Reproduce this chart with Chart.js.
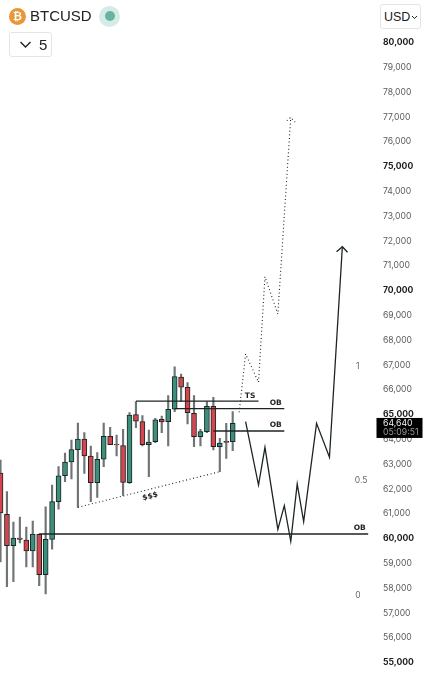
<!DOCTYPE html>
<html>
<head>
<meta charset="utf-8">
<title>BTCUSD</title>
<script src="https://cdn.jsdelivr.net/npm/chart.js@4/dist/chart.umd.min.js"></script>
<style>
    html, body { margin: 0; padding: 0; background: #fff; overflow: hidden; }
    body { width: 426px; height: 679px; position: relative; font-family: "Liberation Sans", sans-serif; color: #222; }
    #chart { position: absolute; left: 0; top: 0; }
    .hd { position: absolute; }
    .coin { left: 9px; top: 7.5px; width: 17px; height: 17px; border-radius: 50%; background: #e8983a; color: #fff; font-size: 11px; font-weight: bold; line-height: 17px; text-align: center; }
    .name { left: 30px; top: 7px; font-size: 15px; line-height: 18px; }
    .halo { left: 99px; top: 5.5px; width: 21px; height: 21px; border-radius: 50%; background: #d5ebe6; }
    .dot { left: 104.5px; top: 11px; width: 10px; height: 10px; border-radius: 50%; background: #69b3a2; }
    .box { border: 1px solid #e4e4e4; border-radius: 3px; background: #fff; box-sizing: border-box; }
    .interval { left: 9px; top: 32px; width: 43px; height: 25px; }
    .interval span { position: absolute; left: 29px; top: 3px; font-size: 15px; line-height: 18px; }
    .currency { left: 380px; top: 4px; width: 41px; height: 25px; }
    .currency span { position: absolute; left: 3px; top: 4px; font-size: 12.5px; line-height: 16px; }
    svg { position: absolute; }
</style>
</head>
<body>
<canvas id="chart" width="426" height="679"></canvas>
<div class="hd coin">₿</div>
<div class="hd name">BTCUSD</div>
<div class="hd halo"></div>
<div class="hd dot"></div>
<div class="hd box interval">
    <svg style="left:9px;top:8px" width="14" height="8"><path d="M1.5 1 L6.5 6 L11.5 1" fill="none" stroke="#222" stroke-width="1.4"/></svg>
    <span>5</span>
</div>
<div class="hd box currency">
    <span>USD</span>
    <svg style="left:30px;top:10px" width="8" height="5"><path d="M1 1 L3.5 3.5 L6 1" fill="none" stroke="#222" stroke-width="1"/></svg>
</div>
<script>
// candles
const candleOpen = [62642, 60977, 59711, 60021, 59941, 59497, 60170, 58542, 59969, 61485, 62533, 63086, 63582, 64013, 63328, 62251, 63195, 64122, 63800, 63743, 62251, 64993, 64711, 63783, 63904, 64807, 64711, 65211, 66513, 66098, 65049, 64106, 64308, 65332, 63703, 63920, 63904];
const candleHigh = [63166, 61888, 60667, 60868, 60465, 60707, 60183, 61283, 62158, 62896, 63449, 63973, 64658, 64267, 63731, 63461, 64658, 64485, 64174, 64404, 65074, 65517, 64953, 64376, 64848, 64940, 65759, 66928, 66634, 66283, 65759, 64404, 65517, 65694, 64041, 64646, 65114];
const candleLow = [59054, 58058, 58259, 59820, 58852, 58852, 58098, 57764, 59566, 61179, 62291, 62400, 61259, 62630, 61485, 61662, 62896, 63783, 63328, 61743, 62227, 64469, 63731, 62493, 63864, 64267, 63731, 65114, 65517, 64618, 63703, 63731, 64267, 63570, 62695, 63235, 63541];
const candleClose = [61029, 59711, 60021, 59969, 59497, 60183, 58542, 59969, 61485, 62533, 63086, 63582, 64013, 63328, 62251, 63195, 64122, 63783, 63771, 62267, 64981, 64727, 63783, 63892, 64791, 64699, 65211, 66525, 66098, 65074, 64106, 64308, 65332, 63703, 63852, 63880, 64640];

const priceTicks = [55000, 56000, 57000, 58000, 59000, 60000, 61000, 62000, 63000, 64000, 65000, 66000, 67000, 68000, 69000, 70000, 71000, 72000, 73000, 74000, 75000, 76000, 77000, 78000, 79000, 80000];

// drawn paths: bar index and price
const solidBars = [38, 40, 41, 43, 44, 45, 46, 47, 49, 51, 53];
const solidPrices = [64711, 62158, 63678, 60372, 61324, 59888, 62199, 60679, 64646, 63275, 71767];
const solidHeadBars = [52.1, 53, 53.8];
const solidHeadPrices = [71565, 71767, 71541];
const dottedBars = [37, 38, 40, 41, 43, 45];
const dottedPrices = [65090, 67440, 66299, 70557, 69053, 76984];
const dottedHeadBars = [44.4, 45, 45.7];
const dottedHeadPrices = [76847, 76984, 76783];
const sssBars = [12, 34];
const sssPrices = [61259, 62695];
const tsBars = [21, 40];
const tsPrice = 65540;
const upperObBars = [27, 44];
const upperObPrice = 65235;
const lowerObBars = [33, 44];
const lowerObPrice = 64336;
const bottomObBars = [6, 57];
const bottomObPrice = 60183;

// labels on the chart
const noteTexts = ['TS', 'OB', 'OB', 'OB'];
const noteBars = [38.7, 42.67, 42.67, 55.7];
const notePrices = [65759, 65477, 64566, 60413];
const fibTexts = ['1', '0.5', '0'];
const fibBars = [55.4, 55.9, 55.4];
const fibPrices = [66956, 62332, 57711];

const lastPrice = 64640;
const countdown = '05:09:51';

const GREEN = '#3d8f7c';
const RED = '#d2464f';
const INK = '#1c2424';

function toPoints(xs, ys) {
    return xs.map((x, i) => ({ x: x, y: ys[i] }));
}

function pathSet(xs, ys, dash, width) {
    return {
        type: 'line',
        data: toPoints(xs, ys),
        borderColor: INK,
        borderWidth: width || 1.3,
        borderDash: dash || [],
        pointRadius: 0,
        tension: 0,
        order: 1
    };
}

function flat(xs, price) {
    return pathSet(xs, xs.map(() => price));
}

const bars = candleOpen.map((_, i) => i);
const DOTS = [1, 2.6];

// text that sits on the plot and the price tag over the axis
const notesPlugin = {
    id: 'notes',
    afterDraw(chart) {
        const c = chart.ctx;
        const x = chart.scales.x;
        const y = chart.scales.y;
        c.save();
        c.textBaseline = 'middle';
        c.textAlign = 'center';

        c.font = 'bold 7.5px "DejaVu Sans"';
        c.fillStyle = '#222';
        noteTexts.forEach((t, i) => {
            c.fillText(t, x.getPixelForValue(noteBars[i]), y.getPixelForValue(notePrices[i]));
        });

        c.save();
        c.translate(x.getPixelForValue(23.2), y.getPixelForValue(61700));
        c.rotate(-0.26);
        c.fillText('$$$', 0, 0);
        c.restore();

        c.font = '8.5px Inter';
        c.fillStyle = '#666';
        fibTexts.forEach((t, i) => {
            c.fillText(t, x.getPixelForValue(fibBars[i]), y.getPixelForValue(fibPrices[i]));
        });

        // price tag
        const mid = y.getPixelForValue(lastPrice);
        c.fillStyle = '#000';
        c.fillRect(376.5, mid - 5.5, 46, 20);
        c.textAlign = 'left';
        c.font = '8.7px Inter';
        c.fillStyle = '#f2f2f2';
        c.fillText(lastPrice.toLocaleString('en-US'), 383, mid - 0.5);
        c.fillStyle = '#9a9a9a';
        c.fillText(countdown, 383, mid + 9);
        c.restore();
    }
};

new Chart(document.getElementById('chart'), {
    type: 'bar',
    data: {
        datasets: [
            pathSet(solidBars, solidPrices),
            pathSet(solidHeadBars, solidHeadPrices),
            pathSet(dottedBars, dottedPrices, DOTS, 1.1),
            pathSet(dottedHeadBars, dottedHeadPrices, DOTS, 1.1),
            pathSet(sssBars, sssPrices, DOTS, 1.1),
            flat(tsBars, tsPrice),
            flat(upperObBars, upperObPrice),
            flat(lowerObBars, lowerObPrice),
            flat(bottomObBars, bottomObPrice),
            {
                // bodies
                data: bars.map(i => ({ x: i, y: [candleOpen[i], candleClose[i]] })),
                backgroundColor: bars.map(i => candleClose[i] >= candleOpen[i] ? GREEN : RED),
                borderColor: INK,
                borderWidth: 1,
                borderSkipped: false,
                barThickness: 5,
                grouped: false,
                order: 2
            },
            {
                // wicks
                data: bars.map(i => ({ x: i, y: [candleLow[i], candleHigh[i]] })),
                backgroundColor: '#6f7474',
                barThickness: 1.5,
                grouped: false,
                order: 3
            }
        ]
    },
    plugins: [notesPlugin],
    options: {
        responsive: false,
        animation: false,
        layout: { autoPadding: false, padding: 0 },
        plugins: { legend: { display: false }, tooltip: { enabled: false } },
        scales: {
            x: {
                type: 'linear',
                display: false,
                offset: false,
                min: -0.0775,
                max: 58.06
            },
            y: {
                position: 'right',
                // plot area leaves about 5px top and bottom, these bounds put 80,000 and 55,000 where they belong
                min: 54544,
                max: 81506,
                grid: { display: false },
                border: { display: false },
                afterFit(scale) { scale.width = 51; },
                afterBuildTicks(scale) { scale.ticks = priceTicks.map(v => ({ value: v })); },
                ticks: {
                    autoSkip: false,
                    padding: 0,
                    color(ctx) { return ctx.tick.value % 5000 === 0 ? '#1c1c1c' : '#5a5a5a'; },
                    font(ctx) {
                        const major = ctx.tick && ctx.tick.value % 5000 === 0;
                        return { family: 'Inter', size: 8.6, weight: major ? 'bold' : 'normal' };
                    },
                    callback(v) { return v.toLocaleString('en-US'); }
                }
            }
        }
    }
});
</script>
</body>
</html>
